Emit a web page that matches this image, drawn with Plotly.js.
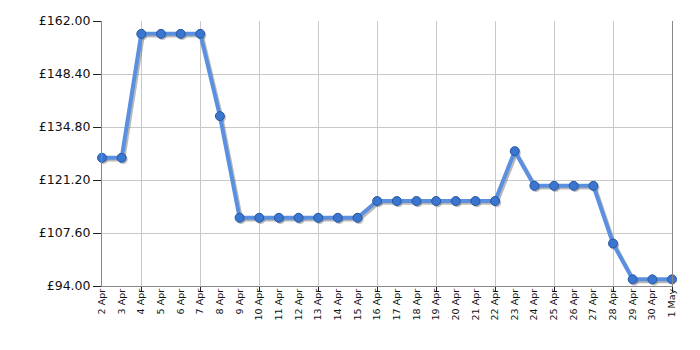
<!DOCTYPE html>
<html>
<head>
<meta charset="utf-8">
<script src="https://cdn.plot.ly/plotly-3.0.1.min.js"></script>
<style>html,body{margin:0;padding:0;background:#fff;}#chart{width:700px;height:350px;}</style>
</head>
<body>
<div id="chart"></div>
<script>
var dates = ["2 Apr","3 Apr","4 Apr","5 Apr","6 Apr","7 Apr","8 Apr","9 Apr","10 Apr","11 Apr","12 Apr","13 Apr","14 Apr","15 Apr","16 Apr","17 Apr","18 Apr","19 Apr","20 Apr","21 Apr","22 Apr","23 Apr","24 Apr","25 Apr","26 Apr","27 Apr","28 Apr","29 Apr","30 Apr","1 May"];
var prices = [126.9,126.9,158.7,158.7,158.7,158.7,137.6,111.5,111.5,111.5,111.5,111.5,111.5,111.5,115.8,115.8,115.8,115.8,115.8,115.8,115.8,128.6,119.7,119.7,119.7,119.7,104.9,95.7,95.7,95.7];
var yTicks = [94,107.6,121.2,134.8,148.4,162];

var idx = dates.map(function(d,i){return i;});
var n = dates.length;

var traces = [
  // base subplot (carries the vertical grid, no marks)
  {x: [], y: [], xaxis:'x', yaxis:'y', mode:'markers', hoverinfo:'skip'},
  // shadow (shifted axes: down and right)
  {x: idx, y: prices, xaxis:'x2', yaxis:'y', mode:'lines+markers', cliponaxis:false,
   line:{color:'rgba(100,100,100,0.45)', width:4},
   marker:{size:9, color:'rgba(100,100,100,0.4)'}, hoverinfo:'skip'},
  // main line
  {x: idx, y: prices, xaxis:'x3', yaxis:'y2', mode:'lines+markers', cliponaxis:false,
   line:{color:'#5b90e0', width:4},
   marker:{size:9, color:'#3a76cf', line:{color:'#2857a0', width:1}}}
];

var hidden = {showgrid:false, showticklabels:false, ticks:'', showline:false, zeroline:false};
var layout = {
  width:700, height:350,
  margin:{l:102, r:28, t:21, b:64},
  paper_bgcolor:'#fff', plot_bgcolor:'#fff',
  showlegend:false,
  font:{family:'DejaVu Sans, Verdana, sans-serif', color:'#111'},
  xaxis:{range:[0,n-1], tickmode:'linear', tick0:2, dtick:3, showticklabels:false,
    showgrid:true, gridcolor:'#c8c8c8', gridwidth:1, zeroline:false,
    ticks:'outside', ticklen:5, tickcolor:'#222',
    showline:true, linecolor:'#888', mirror:false},
  xaxis2:Object.assign({overlaying:'x', range:[-0.08,n-1.08]}, hidden),
  xaxis3:{overlaying:'x', range:[0,n-1], tickmode:'array', tickvals:idx, ticktext:dates,
    tickangle:-90, showgrid:false, zeroline:false, showline:false, ticks:'',
    tickfont:{size:9.5, color:'#111'}, side:'bottom'},
  yaxis:Object.assign({range:[94.45,162.45]}, hidden),
  yaxis2:{overlaying:'y', range:[94,162], tickmode:'array', tickvals:yTicks,
    ticktext:yTicks.map(function(v){return '£'+v.toFixed(2);}),
    showgrid:true, gridcolor:'#c8c8c8', zeroline:false,
    ticks:'outside', ticklen:8, tickcolor:'#222',
    showline:true, linecolor:'#888', mirror:true, side:'left',
    tickfont:{size:12.5, color:'#111'}}
};
Plotly.newPlot('chart', traces, layout, {displayModeBar:false, staticPlot:true});
</script>
</body>
</html>
